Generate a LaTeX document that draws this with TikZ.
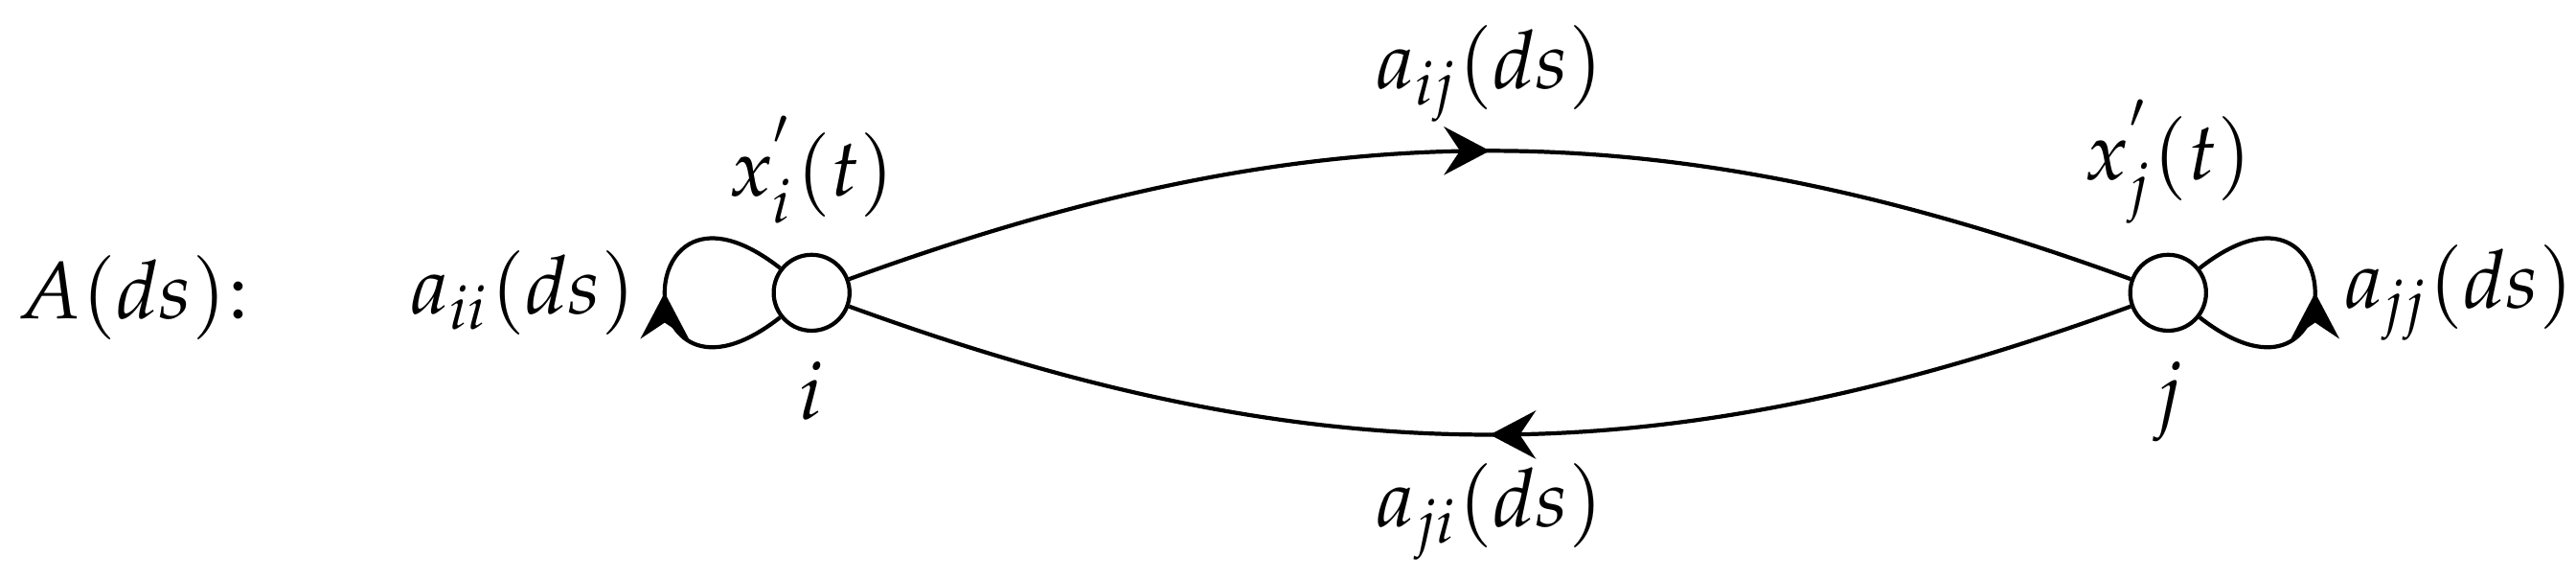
\documentclass[tikz,border=0pt]{standalone}
\usepackage{mathpazo}
\usetikzlibrary{arrows.meta,decorations.markings}

\begin{document}
\begin{tikzpicture}[line width=0.5pt,
  vertex/.style={circle, draw, minimum size=3.3mm, inner sep=0pt},
  midarrow/.style={postaction={decorate}, decoration={markings,
    mark=at position 0.5 with {\arrow{Stealth[length=2mm,width=2.1mm,inset=0.7mm]}}}}]

\useasboundingbox (0,0) rectangle (11.204,2.5125);

\node (title) at (0.58,1.22) {$A(ds){:}$};

\node [vertex, label=above:{$x^{'}_i(t)$}, label=below:{$i$}] (i) at (3.53,1.24) {};
\node [vertex, label=above:{$x^{'}_j(t)$}, label=below:{$j$}] (j) at (9.43,1.24) {};

\draw [midarrow] (i) to [bend left=20] node [above] {$a_{ij}(ds)$} (j);
\draw [midarrow] (j) to [bend left=20] node [below] {$a_{ji}(ds)$} (i);

\draw [midarrow] (i) to [out=218, in=142, distance=8.5mm] node [left] {$a_{ii}(ds)$} (i);
\draw [midarrow] (j) to [out=-38, in=38, distance=8.5mm] node [right] {$a_{jj}(ds)$} (j);

\end{tikzpicture}
\end{document}
